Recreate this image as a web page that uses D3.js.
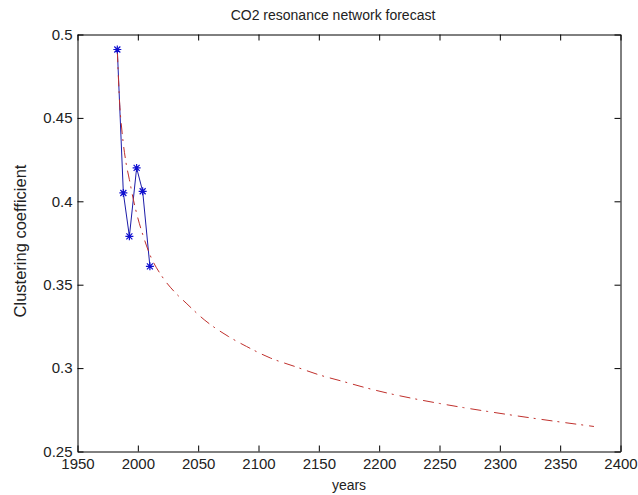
<!DOCTYPE html>
<html>
<head>
<meta charset="utf-8">
<script src="https://cdn.jsdelivr.net/npm/d3@7"></script>
<style>
  html, body { margin: 0; padding: 0; background: #fff; }
  svg { display: block; }
  text { font-family: "Liberation Sans", Arial, sans-serif; fill: #222; }
</style>
</head>
<body>
<svg id="chart" width="638" height="495"></svg>
<script>
// Observed clustering coefficient of the CO2 resonance network
const obsYears = [1983, 1988, 1993, 1999, 2004, 2010];
const obsCoeff = [0.491, 0.405, 0.379, 0.420, 0.406, 0.361];

// Fitted trend extended into the future
const fitYears = [1983, 1985, 1987, 1990, 1993, 1996, 2000, 2005, 2010, 2020, 2030, 2040,
                  2055, 2075, 2090, 2110, 2130, 2150, 2170, 2190, 2210, 2230, 2250, 2270,
                  2290, 2310, 2330, 2350, 2378];
const fitCoeff = [0.490, 0.458, 0.441, 0.424, 0.413, 0.402, 0.390, 0.378, 0.368, 0.355, 0.346, 0.339,
                  0.329, 0.319, 0.313, 0.306, 0.301, 0.296, 0.292, 0.288, 0.2845, 0.2815, 0.2788, 0.2763,
                  0.2740, 0.2718, 0.2697, 0.2677, 0.2650];

// Axis ticks
const xTicks = [1950, 2000, 2050, 2100, 2150, 2200, 2250, 2300, 2350, 2400];
const yTicks = [0.25, 0.3, 0.35, 0.4, 0.45, 0.5];

const plotLeft = 77.5, plotRight = 620.5, plotTop = 34.5, plotBottom = 451.5;
const svg = d3.select("#chart");

const x = d3.scaleLinear().domain([1950, 2400]).range([plotLeft, plotRight]);
const y = d3.scaleLinear().domain([0.25, 0.5]).range([plotBottom, plotTop]);

const tickLen = 6;
const fmt = d => String(d);

function styleAxis(g) {
  g.selectAll("path.domain").attr("stroke", "#000").attr("stroke-width", 1);
  g.selectAll(".tick line").attr("stroke", "#000").attr("stroke-width", 1);
  g.selectAll(".tick text").style("font-size", "15px").attr("fill", "#222");
}

// Bottom axis with labels, ticks pointing inward
svg.append("g")
  .attr("transform", `translate(0,${plotBottom})`)
  .call(d3.axisBottom(x).tickValues(xTicks).tickFormat(fmt)
        .tickSizeInner(-tickLen).tickSizeOuter(0).tickPadding(7))
  .call(styleAxis);

// Top axis (ticks only)
svg.append("g")
  .attr("transform", `translate(0,${plotTop})`)
  .call(d3.axisTop(x).tickValues(xTicks).tickFormat("")
        .tickSizeInner(-tickLen).tickSizeOuter(0))
  .call(styleAxis);

// Left axis with labels
svg.append("g")
  .attr("transform", `translate(${plotLeft},0)`)
  .call(d3.axisLeft(y).tickValues(yTicks).tickFormat(fmt)
        .tickSizeInner(-tickLen).tickSizeOuter(0).tickPadding(5))
  .call(styleAxis);

// Right axis (ticks only)
svg.append("g")
  .attr("transform", `translate(${plotRight},0)`)
  .call(d3.axisRight(y).tickValues(yTicks).tickFormat("")
        .tickSizeInner(-tickLen).tickSizeOuter(0))
  .call(styleAxis);

// Observed series: solid blue line with star markers
const obs = obsYears.map((yr, i) => ({ yr, v: obsCoeff[i] }));
svg.append("path")
  .datum(obs)
  .attr("fill", "none")
  .attr("stroke", "#1c1ca8")
  .attr("stroke-width", 1)
  .attr("d", d3.line().x(d => x(d.yr)).y(d => y(d.v)));

// Forecast: red dash-dot curve
const fit = fitYears.map((yr, i) => ({ yr, v: fitCoeff[i] }));
svg.append("path")
  .datum(fit)
  .attr("fill", "none")
  .attr("stroke", "#c0302c")
  .attr("stroke-width", 1)
  .attr("stroke-dasharray", "11,5,2,6")
  .attr("d", d3.line().curve(d3.curveMonotoneX).x(d => x(d.yr)).y(d => y(d.v)));

const star = "M-4,0H4M0,-4V4M-3,-3L3,3M-3,3L3,-3";
svg.append("g").selectAll("path")
  .data(obs)
  .join("path")
  .attr("transform", d => `translate(${x(d.yr)},${y(d.v)})`)
  .attr("d", star)
  .attr("fill", "none")
  .attr("stroke", "#1010d0")
  .attr("stroke-width", 1.2);

// Title and axis labels
svg.append("text")
  .attr("x", 333).attr("y", 20)
  .attr("text-anchor", "middle")
  .style("font-size", "14px")
  .text("CO2 resonance network forecast");

svg.append("text")
  .attr("x", (plotLeft + plotRight) / 2).attr("y", 490)
  .attr("text-anchor", "middle")
  .style("font-size", "14px")
  .text("years");

svg.append("text")
  .attr("transform", `translate(26,241) rotate(-90)`)
  .attr("text-anchor", "middle")
  .style("font-size", "16.5px")
  .text("Clustering coefficient");
</script>
</body>
</html>
